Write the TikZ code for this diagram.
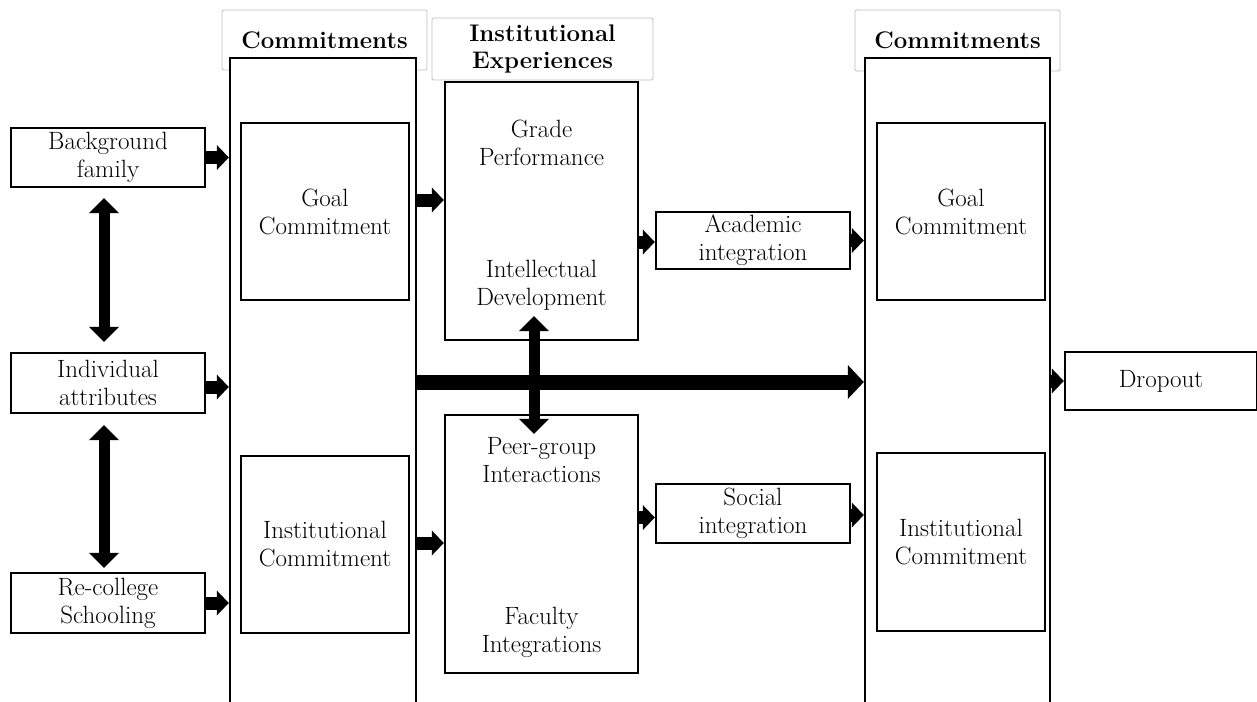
\documentclass[tikz,border=0pt]{standalone}
\usetikzlibrary{arrows.meta}
\newcommand\txtfont{\fontsize{25}{28}\selectfont}
\newcommand\hdrfont{\fontsize{24}{27}\selectfont\bfseries}
\begin{document}
\begin{tikzpicture}[x=1pt,y=-1pt,
  box/.style={draw,line width=2.4pt,align=center,inner sep=0pt,font=\txtfont,fill=white},
  plain/.style={align=center,inner sep=0pt,font=\txtfont},
  lab/.style={draw=black!25,line width=0.9pt,rounded corners=1.5pt,fill=white,align=center,inner sep=0pt,font=\hdrfont},
  colbox/.style={draw,line width=2.4pt,fill=white,inner sep=0pt},
  fat/.style={line width=13pt,-{Triangle[length=12pt,width=25pt,line width=0pt]}},
  big/.style={line width=15pt,-{Triangle[length=16pt,width=34pt,line width=0pt]}},
  dbl/.style={line width=11pt,{Triangle[length=15pt,width=30pt,line width=0pt]}-{Triangle[length=15pt,width=30pt,line width=0pt]}},
  ]
\useasboundingbox (0,0) rectangle (1257,701);
\fill[white] (0,0) rectangle (1257,701);

% header labels
\node[lab,minimum width=205pt,minimum height=60pt] (lab1) at (324.5,40) {Commitments};
\node[lab,minimum width=221pt,minimum height=62pt] (labie) at (542.5,49) {Institutional\\Experiences};
\node[lab,minimum width=205pt,minimum height=61pt] (lab2) at (957.5,40.5) {Commitments};

% columns
\node[colbox,minimum width=186pt,minimum height=662pt] (col1) at (323,389) {};
\node[colbox,minimum width=185pt,minimum height=662pt] (col2) at (957.5,389) {};

% left boxes
\node[box,minimum width=194pt,minimum height=59pt] (bg) at (108,157.5) {Background\\family};
\node[box,minimum width=194pt,minimum height=60pt] (ind) at (108,383) {Individual\\attributes};
\node[box,minimum width=194pt,minimum height=60pt] (rec) at (108,603) {Re-college\\Schooling};

% commitment boxes
\node[box,minimum width=168pt,minimum height=177pt] (goal1) at (325,211.5) {Goal\\Commitment};
\node[box,minimum width=168pt,minimum height=177pt] (inst1) at (325,544.5) {Institutional\\Commitment};
\node[box,minimum width=168pt,minimum height=177pt] (goal2) at (961,211.5) {Goal\\Commitment};
\node[box,minimum width=168pt,minimum height=178pt] (inst2) at (961,542) {Institutional\\Commitment};

% institutional experiences
\node[box,minimum width=193pt,minimum height=258pt] (ieU) at (541.5,211) {};
\node[box,minimum width=193pt,minimum height=258pt] (ieL) at (541.5,544) {};
\node[plain] (gp) at (541.5,143) {Grade\\Performance};
\node[plain] (id) at (541.5,285) {Intellectual\\Development};
\node[plain] (pg) at (541.5,460) {Peer-group\\Interactions};
\node[plain] (fi) at (541.5,632) {Faculty\\Integrations};

% integration boxes
\node[box,minimum width=194pt,minimum height=57pt] (acad) at (753,240.5) {Academic\\integration};
\node[box,minimum width=194pt,minimum height=59pt] (soc) at (753,513.5) {Social\\integration};

% dropout
\node[box,minimum width=192pt,minimum height=58pt] (drop) at (1161,381) {Dropout};

% arrows: left boxes to commitments
\draw[fat] (bg.east) -- (bg.east -| col1.west);
\draw[fat] ([yshift=-4pt]ind.east) -- ([yshift=-4pt]ind.east -| col1.west);
\draw[fat] (rec.east) -- (rec.east -| col1.west);

% left double arrows
\draw[dbl] ([xshift=-4pt,yshift=-10pt]bg.south) -- ([xshift=-4pt,yshift=10pt]ind.north);
\draw[dbl] ([xshift=-4pt,yshift=-11pt]ind.south) -- ([xshift=-4pt,yshift=4pt]rec.north);

% commitments to experiences
\coordinate (c1a) at (col1.east |- 0,200);
\coordinate (c1b) at (col1.east |- 0,543);
\draw[fat] (c1a) -- (c1a -| ieU.west);
\draw[fat] (c1b) -- (c1b -| ieL.west);

% experiences to integrations
\draw[fat] ([yshift=-1.5pt]acad.west -| ieU.east) -- ([yshift=-1.5pt]acad.west);
\draw[fat] ([yshift=-4pt]soc.west -| ieL.east) -- ([yshift=-4pt]soc.west);
\draw[fat] (acad.east) -- (acad.east -| col2.west);
\draw[fat] ([yshift=-1.5pt]soc.east) -- ([yshift=-1.5pt]soc.east -| col2.west);

% big arrow
\coordinate (bstart) at (col1.east |- 0,382);
\draw[big] (bstart) -- (bstart -| col2.west);

% middle double arrow
\draw[dbl] ([xshift=-7.5pt,yshift=25pt]ieU.south) -- ([xshift=-7.5pt,yshift=-20pt]ieL.north);

% to dropout
\draw[fat] (col2.east |- drop.west) -- (drop.west);
\end{tikzpicture}
\end{document}
